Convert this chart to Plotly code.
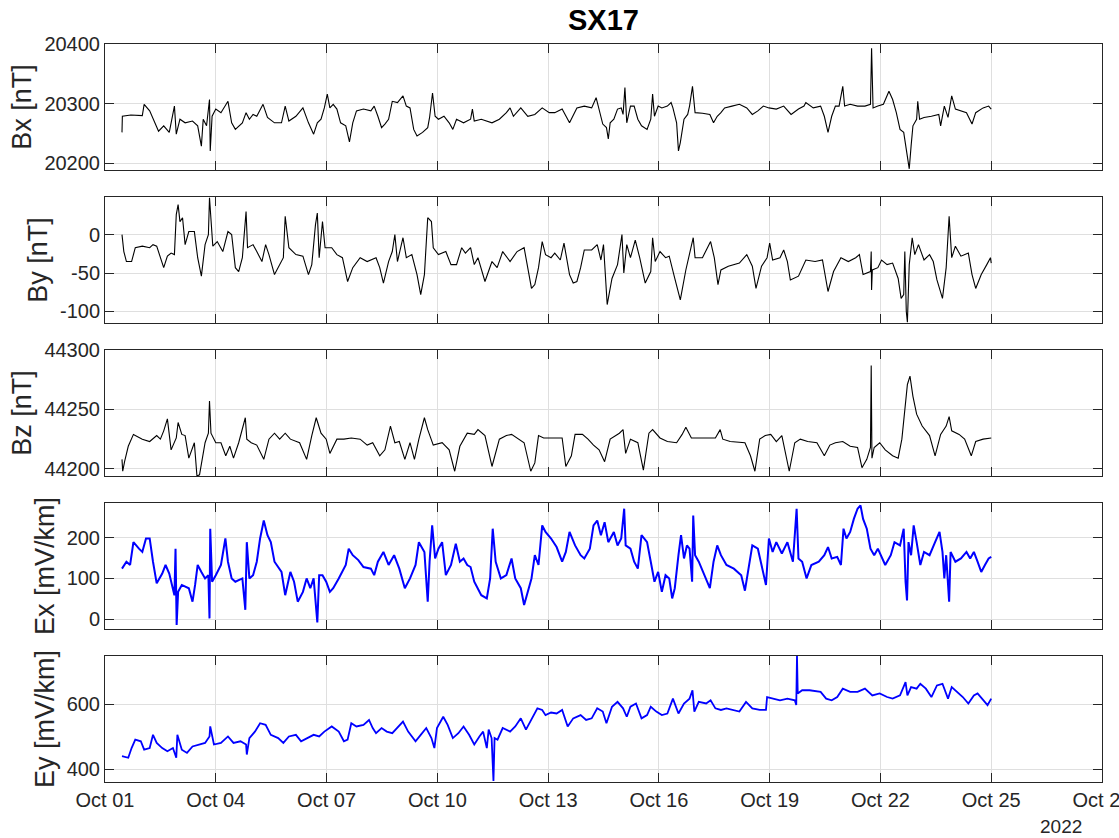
import pandas as pd
import plotly.graph_objects as go

# ---------------- data (time in days after 2022-10-01 00:00) ----------------
START = "2022-10-01"

bx_t = [0.46,0.47,0.70,1.01,1.06,1.21,1.45,1.59,1.74,1.88,1.93,2.03,2.17,2.37,2.51,2.61,2.66,2.75,2.83,2.85,
        2.90,3.00,3.14,3.33,3.43,3.53,3.72,3.82,3.91,4.01,4.11,4.28,4.40,4.59,4.78,4.88,4.98,5.17,5.36,5.51,
        5.65,5.75,5.85,5.94,6.02,6.09,6.18,6.28,6.38,6.52,6.62,6.71,6.81,7.00,7.20,7.29,7.39,7.49,7.58,7.68,
        7.78,7.92,8.07,8.16,8.26,8.36,8.45,8.60,8.74,8.79,8.87,8.94,9.03,9.18,9.32,9.42,9.52,9.71,9.90,9.95,
        10.00,10.19,10.48,10.68,10.87,10.97,11.06,11.26,11.45,11.64,11.84,12.03,
        12.18,12.38,12.58,12.78,12.98,13.18,13.30,13.38,13.48,13.58,13.63,13.68,13.78,13.88,13.98,14.03,14.08,
        14.13,14.23,14.33,14.43,14.53,14.68,14.78,14.83,14.88,14.98,15.08,15.23,15.33,15.38,15.48,15.53,15.58,
        15.68,15.78,15.83,15.91,15.98,16.18,16.38,16.48,16.58,16.68,16.78,16.98,17.18,17.38,17.53,17.68,17.83,
        17.98,18.18,18.38,18.58,18.78,18.93,18.98,19.18,19.38,19.48,19.58,19.68,19.78,19.88,19.98,20.03,20.18,
        20.38,20.58,20.73,20.76,20.80,20.93,21.08,21.23,21.33,21.43,21.53,21.63,21.68,21.73,21.78,21.83,21.88,
        21.98,22.01,22.06,22.18,22.38,22.58,22.63,22.73,22.83,22.93,23.03,23.18,23.33,23.48,23.58,23.78,23.93,24.00]
bx_v = [20252,20279,20281,20280,20299,20288,20254,20263,20252,20296,20249,20274,20268,20271,20263,20229,20274,20263,20307,20221,
        20279,20291,20285,20304,20268,20257,20268,20285,20274,20282,20279,20299,20277,20268,20268,20296,20271,20279,20293,20268,
        20249,20268,20274,20293,20316,20293,20299,20291,20268,20263,20236,20268,20288,20291,20288,20296,20279,20260,20266,20274,
        20304,20302,20313,20296,20293,20257,20246,20252,20260,20277,20318,20279,20274,20279,20268,20257,20274,20268,20274,20291,
        20271,20274,20268,20274,20285,20293,20279,20293,20279,20282,20293,20285,
        20285,20291,20268,20293,20296,20293,20310,20288,20266,20260,20241,20268,20274,20291,20293,20282,20327,
        20268,20296,20296,20274,20263,20257,20274,20316,20279,20296,20293,20296,20302,20293,20268,20221,20235,
        20274,20282,20296,20329,20285,20284,20282,20268,20279,20285,20293,20296,20299,20293,20282,20288,20296,
        20293,20291,20296,20282,20291,20296,20302,20293,20296,20279,20252,20279,20296,20296,20329,20296,20299,
        20296,20296,20299,20393,20293,20296,20299,20321,20307,20285,20257,20252,20229,20213,20191,20229,20263,
        20274,20304,20274,20277,20279,20282,20263,20296,20277,20313,20291,20288,20285,20266,20285,20293,20296,20291]

by_t = [0.46,0.51,0.58,0.72,0.82,1.01,1.21,1.30,1.40,1.59,1.69,1.79,1.88,1.93,1.98,2.03,2.10,2.17,2.27,2.42,
        2.51,2.61,2.71,2.80,2.83,2.87,2.92,3.04,3.19,3.33,3.43,3.53,3.62,3.72,3.82,3.86,4.01,4.11,4.25,4.35,
        4.44,4.59,4.73,4.83,4.88,4.98,5.17,5.36,5.51,5.60,5.70,5.75,5.80,5.89,5.96,6.14,6.28,6.43,6.57,6.71,
        6.91,7.10,7.34,7.44,7.54,7.68,7.78,7.85,7.92,8.07,8.16,8.31,8.45,8.55,8.65,8.74,8.84,8.89,9.03,9.23,
        9.37,9.52,9.66,9.76,9.90,10.00,10.10,10.29,10.48,10.62,10.77,10.97,11.16,11.35,11.55,11.64,11.74,11.84,
        11.93,12.08,
        12.18,12.33,12.43,12.58,12.68,12.78,12.88,12.98,13.18,13.33,13.43,13.50,13.60,13.73,13.88,14.00,14.05,
        14.13,14.23,14.36,14.48,14.63,14.78,14.83,14.90,15.03,15.18,15.28,15.43,15.58,15.73,15.88,15.93,15.98,
        16.18,16.40,16.50,16.60,16.68,16.88,17.18,17.38,17.53,17.63,17.78,17.93,18.00,18.08,18.28,18.38,18.48,
        18.56,18.78,18.98,19.23,19.43,19.53,19.58,19.73,19.93,20.13,20.33,20.43,20.53,20.73,20.75,20.76,20.78,
        20.93,21.03,21.18,21.33,21.48,21.56,21.63,21.66,21.70,21.73,21.78,21.86,21.93,22.03,22.18,22.33,22.43,
        22.53,22.68,22.78,22.86,22.93,23.03,23.18,23.38,23.48,23.58,23.73,23.88,23.98,24.00]
by_v = [0,-22,-35,-35,-17,-15,-17,-13,-15,-43,-28,-24,-26,26,39,17,22,-13,4,4,
        -30,-54,-13,0,48,13,-15,-9,-22,4,0,-43,-48,-30,30,-17,-13,-22,-35,-13,
        -26,-52,-39,-30,24,-17,-26,-28,-52,-39,13,28,-30,17,-17,-17,-26,-30,-61,-43,
        -30,-35,-30,-43,-63,-35,-22,0,-35,-4,-30,-26,-52,-78,-52,22,17,-17,-26,-22,
        -39,-39,-17,-24,-17,-39,-30,-61,-35,-43,-22,-35,-22,-17,-70,-65,-43,-9,
        -26,-30,
        -24,-33,-11,-52,-63,-61,-43,-20,-20,-13,-33,-13,-91,-57,-39,0,-50,
        -13,-30,-7,-30,-63,-48,-4,-35,-22,-30,-28,-57,-85,-46,-17,-4,-30,
        -30,-9,-30,-65,-46,-41,-37,-26,-41,-70,-41,-30,-11,-33,-30,-20,-35,
        -59,-54,-33,-35,-33,-61,-74,-48,-30,-35,-30,-26,-52,-48,-22,-72,-46,
        -43,-33,-39,-37,-57,-83,-78,-22,-100,-114,-39,-4,-26,-13,-33,-26,-35,
        -59,-83,-43,24,-30,-15,-28,-24,-52,-70,-52,-39,-30,-37]

bz_t = [0.46,0.48,0.53,0.63,0.77,1.01,1.21,1.40,1.50,1.59,1.69,1.79,1.93,1.98,2.08,2.17,2.27,2.42,2.49,2.56,
        2.71,2.80,2.83,2.87,3.00,3.14,3.27,3.38,3.48,3.62,3.80,3.84,3.96,4.11,4.30,4.44,4.59,4.73,4.88,5.02,
        5.27,5.46,5.60,5.72,5.85,5.99,6.09,6.28,6.47,6.67,6.91,7.10,7.25,7.44,7.58,7.73,7.85,7.97,8.12,8.26,
        8.38,8.50,8.65,8.74,8.89,9.13,9.32,9.47,9.61,9.81,10.00,10.10,10.29,10.48,10.68,10.87,11.01,11.16,11.35,
        11.53,11.64,11.74,11.88,12.08,
        12.18,12.38,12.48,12.63,12.73,12.93,13.08,13.23,13.38,13.53,13.68,13.93,14.03,14.10,14.23,14.43,14.58,
        14.73,14.83,15.03,15.23,15.48,15.63,15.73,15.88,16.08,16.53,16.66,16.73,16.93,17.18,17.33,17.48,17.60,
        17.73,17.88,18.03,18.18,18.33,18.43,18.53,18.68,18.83,19.03,19.28,19.48,19.63,19.78,19.98,20.18,20.38,
        20.50,20.63,20.73,20.75,20.77,20.83,20.98,21.13,21.33,21.48,21.58,21.68,21.73,21.80,21.88,21.98,22.13,
        22.33,22.48,22.63,22.78,22.86,22.93,23.13,23.28,23.46,23.58,23.78,24.00]
bz_v = [44208,44198,44206,44219,44229,44225,44223,44228,44225,44232,44242,44216,44226,44239,44229,44228,44209,44222,44194,44195,
        44222,44230,44257,44230,44222,44222,44211,44219,44209,44222,44243,44225,44222,44220,44208,44225,44230,44225,44230,44225,
        44222,44208,44228,44243,44230,44225,44213,44225,44225,44226,44225,44220,44222,44211,44216,44236,44222,44223,44208,44222,
        44208,44225,44243,44233,44220,44222,44216,44198,44219,44230,44229,44233,44228,44202,44225,44228,44229,44226,44222,
        44198,44205,44228,44226,44226,
        44226,44226,44202,44211,44229,44229,44225,44220,44216,44206,44225,44230,44233,44213,44225,44222,44199,
        44230,44233,44226,44223,44222,44229,44235,44226,44226,44226,44233,44225,44223,44222,44222,44211,44198,
        44225,44228,44229,44223,44228,44213,44198,44222,44225,44223,44222,44211,44220,44222,44223,44219,44218,
        44201,44208,44218,44287,44209,44218,44222,44216,44211,44209,44225,44256,44271,44278,44261,44246,44236,
        44228,44211,44229,44236,44244,44232,44229,44225,44211,44223,44225,44226]

ex_t = [0.46,0.58,0.68,0.77,0.92,1.01,1.11,1.21,1.30,1.40,1.55,1.64,1.74,1.88,1.91,1.94,1.98,2.08,2.27,2.37,
        2.44,2.51,2.61,2.71,2.80,2.83,2.85,2.90,3.00,3.14,3.26,3.33,3.43,3.53,3.72,3.80,3.84,3.91,4.01,4.11,
        4.20,4.30,4.40,4.49,4.59,4.78,4.88,5.02,5.12,5.22,5.36,5.46,5.56,5.65,5.75,5.80,5.89,5.99,6.09,6.18,
        6.33,6.43,6.52,6.60,6.71,6.86,7.00,7.20,7.29,7.39,7.54,7.68,7.83,7.97,8.12,8.26,8.41,8.50,8.65,8.74,
        8.79,8.86,8.94,9.03,9.13,9.23,9.37,9.50,9.61,9.71,9.81,9.90,10.00,10.19,10.34,10.43,10.50,10.58,10.72,
        10.87,11.01,11.11,11.26,11.35,11.45,11.55,11.64,11.74,11.84,11.93,12.08,
        12.23,12.38,12.48,12.58,12.73,12.88,12.98,13.13,13.23,13.33,13.43,13.53,13.63,13.78,13.88,13.98,14.06,
        14.10,14.23,14.33,14.43,14.53,14.68,14.78,14.88,14.98,15.08,15.18,15.28,15.36,15.43,15.53,15.60,15.68,
        15.76,15.83,15.90,15.93,15.98,16.08,16.23,16.38,16.48,16.58,16.68,16.83,17.03,17.23,17.33,17.43,17.53,
        17.68,17.78,17.90,17.98,18.08,18.18,18.33,18.48,18.63,18.73,18.78,18.88,19.00,19.13,19.33,19.48,19.58,
        19.68,19.83,19.93,20.00,20.08,20.18,20.28,20.38,20.46,20.53,20.63,20.73,20.83,20.93,21.13,21.28,21.38,
        21.53,21.63,21.68,21.72,21.76,21.83,21.90,21.98,22.08,22.18,22.33,22.48,22.60,22.68,22.73,22.78,22.86,
        22.90,23.03,23.18,23.33,23.43,23.53,23.63,23.73,23.83,23.93,24.00]
ex_v = [124,141,133,189,173,165,198,198,141,88,112,133,112,59,173,-14,67,84,76,43,
        84,133,116,100,108,2,222,92,108,133,198,141,100,92,100,23,189,100,108,141,
        198,242,206,189,141,116,59,116,92,43,67,100,76,100,-8,108,108,92,67,76,
        100,116,133,173,157,145,128,124,108,141,165,133,157,124,76,100,133,189,165,43,
        141,230,149,173,189,108,133,185,141,149,133,128,92,59,51,100,222,141,100,
        108,149,100,76,35,67,100,157,133,230,214,198,
        177,141,165,214,181,157,149,173,230,242,206,238,189,214,181,198,271,
        181,173,141,124,206,189,141,92,116,67,108,100,51,76,157,206,149,
        181,173,92,254,157,141,108,76,141,181,157,133,124,108,70,124,181,
        173,133,84,198,165,189,161,189,141,271,149,141,100,133,141,157,177,
        149,153,133,222,198,214,246,271,279,246,222,173,157,173,133,157,189,
        181,222,92,46,189,157,230,189,133,165,157,189,214,165,100,157,43,
        165,141,149,165,149,165,141,116,133,149,153]

ey_t = [0.46,0.63,0.72,0.82,0.97,1.06,1.21,1.30,1.40,1.55,1.69,1.84,1.93,1.96,2.08,2.22,2.37,2.56,2.71,2.83,
        2.85,2.95,3.14,3.33,3.48,3.67,3.82,3.84,3.91,4.06,4.20,4.35,4.49,4.69,4.83,4.98,5.17,5.31,5.46,5.65,
        5.80,5.94,6.14,6.33,6.47,6.57,6.67,6.81,7.00,7.15,7.25,7.34,7.49,7.63,7.78,7.92,8.07,8.21,8.41,8.55,
        8.70,8.84,8.92,8.99,9.16,9.28,9.42,9.57,9.71,9.86,10.00,10.14,10.24,10.34,10.39,10.47,10.52,10.55,10.63,
        10.77,10.97,11.11,11.26,11.40,11.55,11.71,11.84,11.93,12.08,
        12.23,12.38,12.53,12.68,12.88,13.03,13.18,13.33,13.48,13.58,13.73,13.88,14.03,14.13,14.23,14.38,14.53,
        14.68,14.78,14.93,15.08,15.23,15.38,15.53,15.68,15.83,15.91,15.96,16.08,16.28,16.40,16.53,16.68,16.83,
        16.98,17.18,17.36,17.53,17.73,17.90,17.93,18.08,18.28,18.48,18.68,18.72,18.74,18.76,18.88,19.08,19.38,
        19.53,19.68,19.83,19.98,20.18,20.38,20.58,20.78,20.98,21.18,21.33,21.53,21.68,21.73,21.83,21.98,22.08,
        22.23,22.38,22.53,22.68,22.83,22.93,23.08,23.23,23.38,23.53,23.63,23.78,23.90,24.00]
ey_v = [440,435,465,491,486,460,465,506,481,465,455,465,435,506,460,450,470,476,481,501,
        532,476,481,501,481,486,476,445,496,516,542,537,506,496,481,501,506,486,496,506,
        501,516,532,516,486,491,542,532,537,552,527,511,527,516,511,527,547,516,486,506,
        527,496,465,527,562,537,496,511,532,506,476,501,516,465,522,496,363,496,491,
        527,516,532,557,522,552,588,583,567,575,
        572,583,532,557,567,552,557,588,578,542,593,608,588,562,593,603,557,
        567,593,578,567,572,618,572,603,618,644,578,608,603,613,588,583,588,
        583,578,608,588,583,583,623,618,613,618,613,598,751,634,644,644,639,
        618,613,623,649,639,639,649,628,634,623,618,628,669,628,654,649,664,
        649,623,659,664,618,654,639,623,603,628,634,613,598,618]

x_range_days = [0, 27]
x_tick_step_days = 3
year_label = "2022"
chart_title = "SX17"

panels = [
    dict(label="Bx [nT]", t=bx_t, v=bx_v, color="#000000", width=1.1,
         yrange=[20189, 20400], tickvals=[20200, 20300, 20400], ticktext=["20200", "20300", "20400"]),
    dict(label="By [nT]", t=by_t, v=by_v, color="#000000", width=1.1,
         yrange=[-115, 49], tickvals=[-100, -50, 0], ticktext=["-100", "-50", "0"]),
    dict(label="Bz [nT]", t=bz_t, v=bz_v, color="#000000", width=1.1,
         yrange=[44194, 44300], tickvals=[44200, 44250, 44300], ticktext=["44200", "44250", "44300"]),
    dict(label="Ex [mV/km]", t=ex_t, v=ex_v, color="#0000ff", width=2.0,
         yrange=[-24, 285], tickvals=[0, 100, 200], ticktext=["0", "100", "200"]),
    dict(label="Ey [mV/km]", t=ey_t, v=ey_v, color="#0000ff", width=1.8,
         yrange=[360, 750], tickvals=[400, 600], ticktext=["400", "600"]),
]

# ---------------- figure ----------------
start = pd.Timestamp(START)
def to_time(days):
    return [start + pd.Timedelta(days=d) for d in days]

FONT = "Liberation Sans, Arial, Helvetica, sans-serif"
AXC = "#262626"
GRID = "#dfdfdf"

W, H = 1119, 838
L, R, T, B = 105, 17, 44, 56
panel_h = 126
gap = 27
plot_h = H - T - B

fig = go.Figure()
layout = dict(
    width=W, height=H,
    margin=dict(l=L, r=R, t=T, b=B, pad=0),
    paper_bgcolor="white", plot_bgcolor="white",
    showlegend=False, template="none",
    font=dict(family=FONT, color=AXC, size=20),
)

n = len(panels)
for i, p in enumerate(panels):
    k = "" if i == 0 else str(i + 1)
    top_px = i * (panel_h + gap)
    d0 = 1 - (top_px + panel_h) / plot_h
    d1 = 1 - top_px / plot_h
    fig.add_trace(go.Scatter(
        x=to_time(p["t"]), y=p["v"], mode="lines",
        line=dict(color=p["color"], width=p["width"]),
        xaxis="x" + k, yaxis="y" + k, hoverinfo="skip"))
    last = (i == n - 1)
    layout["xaxis" + k] = dict(
        type="date", domain=[0, 1], anchor="y" + k,
        range=[start + pd.Timedelta(days=x_range_days[0]), start + pd.Timedelta(days=x_range_days[1])],
        tick0=start, dtick=x_tick_step_days * 86400000, tickformat="%b %d",
        showticklabels=last, ticks="inside", ticklen=9, tickwidth=1, tickcolor=AXC,
        showline=True, linecolor=AXC, linewidth=1, mirror="allticks",
        showgrid=True, gridcolor=GRID, gridwidth=1, zeroline=False,
        tickfont=dict(family=FONT, size=20, color=AXC),
        ticklabeloverflow="allow", automargin=False,
        matches=None if i == 0 else "x",
    )
    layout["yaxis" + k] = dict(
        domain=[d0, d1], anchor="x" + k, range=p["yrange"],
        tickmode="array", tickvals=p["tickvals"], ticktext=p["ticktext"],
        ticks="inside", ticklen=9, tickwidth=1, tickcolor=AXC,
        showline=True, linecolor=AXC, linewidth=1, mirror="allticks",
        showgrid=True, gridcolor=GRID, gridwidth=1, zeroline=False,
        tickfont=dict(family=FONT, size=20, color=AXC),
        title=dict(text=p["label"], font=dict(family=FONT, size=27, color=AXC), standoff=4),
        automargin=False,
    )

layout["annotations"] = [
    dict(text="<b>" + chart_title + "</b>", xref="paper", yref="paper",
         x=0.5, y=1 + 24 / plot_h, xanchor="center", yanchor="middle",
         showarrow=False, font=dict(family=FONT, size=29, color="#000000")),
    dict(text=year_label, xref="paper", yref="paper",
         x=(1061 - L) / (W - L - R), y=-44 / plot_h, xanchor="center", yanchor="middle",
         showarrow=False, font=dict(family=FONT, size=19, color=AXC)),
]

fig.update_layout(**layout)
fig.write_html("out.html", config={"displayModeBar": False})
